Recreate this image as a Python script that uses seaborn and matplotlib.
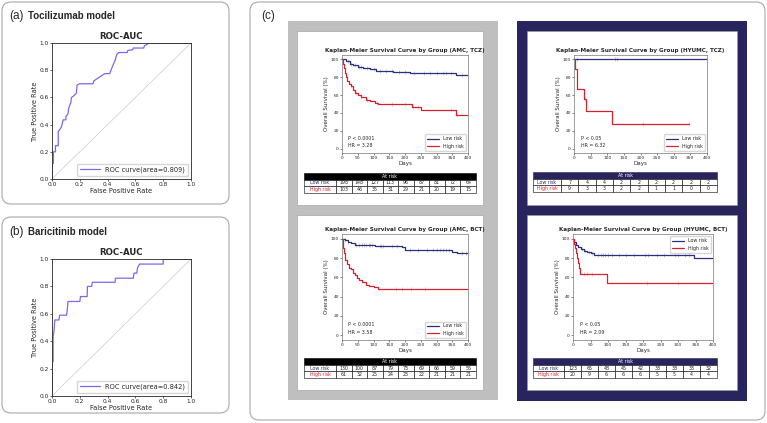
import matplotlib
matplotlib.use("Agg")
import matplotlib.pyplot as plt
from matplotlib.patches import FancyBboxPatch, Rectangle
import numpy as np
import seaborn as sns

W, H = 767, 423

# ROC curves (corner points)
toci_fpr = [0, 0, 0.01, 0.01, 0.025, 0.025, 0.045, 0.045, 0.06, 0.07, 0.08, 0.10, 0.10,
            0.115, 0.12, 0.135, 0.14, 0.155, 0.175, 0.18, 0.195, 0.295, 0.30, 0.32, 0.35,
            0.38, 0.415, 0.43, 0.44, 0.455, 0.465, 0.48, 0.54, 0.545, 0.58, 0.585, 0.66,
            0.665, 0.68, 0.695, 1.0]
toci_tpr = [0, 0.115, 0.115, 0.20, 0.20, 0.245, 0.245, 0.35, 0.37, 0.39, 0.435, 0.435, 0.46,
            0.48, 0.52, 0.56, 0.60, 0.61, 0.63, 0.69, 0.70, 0.70, 0.72, 0.735, 0.755,
            0.775, 0.775, 0.815, 0.84, 0.875, 0.915, 0.93, 0.93, 0.945, 0.95, 0.963, 0.963,
            0.98, 0.988, 1.0, 1.0]
bari_fpr = [0, 0, 0.008, 0.008, 0.015, 0.02, 0.05, 0.055, 0.105, 0.11, 0.115, 0.20, 0.205,
            0.253, 0.255, 0.285, 0.29, 0.453, 0.457, 0.585, 0.59, 0.61, 0.615, 0.63, 0.80,
            0.80, 1.0]
bari_tpr = [0, 0.25, 0.25, 0.43, 0.48, 0.555, 0.555, 0.59, 0.59, 0.63, 0.69, 0.69, 0.726,
            0.726, 0.80, 0.80, 0.83, 0.83, 0.86, 0.86, 0.897, 0.897, 0.934, 0.963, 0.963,
            1.0, 1.0]

# Kaplan-Meier step curves (days, survival %) and censor days
amc_tcz_low_t = [0, 14, 24, 35, 51, 67, 88, 109, 130, 162, 215, 363, 400]
amc_tcz_low_s = [100, 98, 95, 93.5, 92, 90, 89, 87.5, 86.5, 86, 85, 83, 83]
amc_tcz_low_c = [20, 30, 40, 55, 60, 80, 100, 120, 140, 160, 180, 200, 230, 260, 280,
                 300, 320, 330, 345, 380]
amc_tcz_high_t = [0, 2, 5, 8, 12, 17, 22, 30, 35, 42, 50, 60, 75, 90, 105, 115, 222, 250,
                  362, 400]
amc_tcz_high_s = [100, 95, 90, 85, 80, 76, 72, 70, 66, 62, 60, 58, 55, 53, 51, 50, 47, 43,
                  38, 38]
amc_tcz_high_c = [30, 45, 60, 80, 110, 160, 200, 225, 240, 345, 365]

hy_tcz_low_t = [0, 400]
hy_tcz_low_s = [100, 100]
hy_tcz_low_c = [8, 122, 130]
hy_tcz_high_t = [0, 3, 8, 10, 29, 36, 113, 345]
hy_tcz_high_s = [100, 88.9, 77.8, 66.7, 55.6, 41.7, 27.8, 27.8]
hy_tcz_high_c = [33, 207, 345]

amc_bct_low_t = [0, 10, 20, 30, 40, 105, 190, 200, 350, 365, 400]
amc_bct_low_s = [100, 99, 97, 95.5, 94, 93, 92, 88, 86.5, 85, 85]
amc_bct_low_c = [10, 20, 45, 55, 65, 70, 75, 85, 90, 95, 120, 125, 130, 160, 175, 215, 240,
                 270, 290, 300, 310, 320, 330, 340, 380, 395]
amc_bct_high_t = [0, 3, 6, 10, 15, 22, 30, 35, 40, 48, 55, 65, 75, 85, 100, 115, 400]
amc_bct_high_s = [100, 90, 85, 78, 74, 70, 68.5, 65, 62, 59, 57, 55, 52, 51, 49.5, 48, 48]
amc_bct_high_c = [170, 190, 220, 265]

hy_bct_low_t = [0, 3, 8, 15, 22, 30, 40, 50, 60, 345, 400]
hy_bct_low_s = [100, 97, 94, 91, 89, 87, 86, 85, 83.5, 80.5, 80.5]
hy_bct_low_c = [25, 35, 45, 55, 70, 80, 85, 90, 100, 110, 130, 150, 175, 205, 215, 240,
                260, 290, 300, 320, 330]
hy_bct_high_t = [0, 2, 5, 8, 12, 15, 18, 20, 97, 400]
hy_bct_high_s = [100, 95, 90, 85, 80, 75, 70, 63, 54, 54]
hy_bct_high_c = [30, 40, 55, 210, 300]

# numbers at risk
amc_tcz_risk_low = [198, 148, 127, 113, 96, 87, 81, 72, 64]
amc_tcz_risk_high = [103, 46, 35, 31, 29, 21, 20, 19, 15]
hy_tcz_risk_low = [7, 4, 4, 2, 2, 2, 2, 2, 2]
hy_tcz_risk_high = [9, 3, 3, 2, 2, 1, 1, 0, 0]
amc_bct_risk_low = [130, 100, 87, 79, 73, 69, 66, 59, 55]
amc_bct_risk_high = [61, 32, 25, 24, 23, 22, 21, 21, 21]
hy_bct_risk_low = [123, 65, 48, 45, 42, 38, 38, 33, 32]
hy_bct_risk_high = [20, 9, 6, 6, 6, 5, 5, 4, 4]

NAVY = "#27245e"
LOW = "#2c2f7c"
HIGH = "#d6202f"
ROC = "#7b68ee"
GRAY = "#bfbfbf"

sns.set_theme(style="ticks")
plt.rcParams["font.family"] = ["DejaVu Sans"]
plt.rcParams["axes.linewidth"] = 0.6

fig = plt.figure(figsize=(W / 100, H / 100), dpi=100)


def rect(x0, y0, x1, y1):
    return [x0 / W, 1 - y1 / H, (x1 - x0) / W, (y1 - y0) / H]


bg = fig.add_axes([0, 0, 1, 1])
bg.set_xlim(0, W)
bg.set_ylim(H, 0)
bg.axis("off")


def rounded(x0, y0, x1, y1):
    bg.add_patch(FancyBboxPatch((x0, y0), x1 - x0, y1 - y0,
                                boxstyle="round,pad=0,rounding_size=9",
                                fc="white", ec="#a8a8a8", lw=0.8))


rounded(2, 2, 229, 204)
rounded(2, 217, 229, 413)
rounded(250, 2, 765, 420)
bg.add_patch(Rectangle((288, 21), 210, 379, fc=GRAY, ec="none"))
bg.add_patch(Rectangle((517, 21), 230, 380, fc=NAVY, ec="none"))
for x0, x1 in [(297, 483), (527, 737)]:
    bg.add_patch(Rectangle((x0, 31), x1 - x0, 174, fc="white", ec="#999999", lw=0.4))
    bg.add_patch(Rectangle((x0, 215), x1 - x0, 175, fc="white", ec="#999999", lw=0.4))

head_font = ["Liberation Sans", "DejaVu Sans"]
for y, lab, name in [(16, "(a)", "Tocilizumab model"), (232, "(b)", "Baricitinib model")]:
    bg.text(9, y, lab, fontsize=8.5, family=head_font, fontweight="light", va="center")
    bg.text(28, y, name, fontsize=7, family=head_font, fontweight="bold", va="center")
bg.text(261, 16, "(c)", fontsize=8.5, family=head_font, va="center")


def draw_roc(box, fpr, tpr, auc):
    ax = fig.add_axes(rect(*box))
    ax.plot([0, 1], [0, 1], color="#cccccc", lw=0.5)
    sns.lineplot(x=fpr, y=tpr, sort=False, estimator=None, color=ROC, lw=0.9, ax=ax,
                 label=f"ROC curve(area={auc})")
    ax.set_xlim(0, 1)
    ax.set_ylim(0, 1)
    ticks = np.arange(0, 1.01, 0.2)
    ax.set_xticks(ticks)
    ax.set_yticks(ticks)
    ax.tick_params(labelsize=4.2, length=1.5, width=0.5, pad=1)
    ax.set_xlabel("False Positive Rate", fontsize=4.8, labelpad=0.5)
    ax.set_ylabel("True Positive Rate", fontsize=4.8, labelpad=1)
    ax.set_title("ROC-AUC", fontsize=6.2, fontweight="bold", pad=3)
    ax.legend(loc="lower right", fontsize=4.8, handlelength=3, frameon=True,
              edgecolor="#cccccc", fancybox=True, borderpad=0.4)


draw_roc((52, 43, 191, 179), toci_fpr, toci_tpr, "0.809")
draw_roc((52, 259, 191, 396), bari_fpr, bari_tpr, "0.842")


def at(t, s, c):
    idx = np.searchsorted(t, c, side="right") - 1
    return np.asarray(s)[idx]


def draw_km(box, title, low, high, p_txt, hr_txt, leg_loc):
    ax = fig.add_axes(rect(*box))
    for (t, s, c), col, lab in [(low, LOW, "Low risk"), (high, HIGH, "High risk")]:
        sns.lineplot(x=t, y=s, drawstyle="steps-post", estimator=None, color=col,
                     lw=0.9, ax=ax, label=lab)
        ax.plot(c, at(t, s, c), ls="none", marker="|", ms=2.5, mew=0.4,
                color=col, alpha=0.45)
    ax.set_xlim(0, 400)
    ax.set_ylim(-5, 105)
    ax.set_xticks(range(0, 401, 50))
    ax.set_yticks(range(0, 101, 20))
    ax.tick_params(labelsize=3.2, length=1.2, width=0.4, pad=1)
    for sp in ax.spines.values():
        sp.set_color("#777777")
        sp.set_linewidth(0.5)
    ax.set_xlabel("Days", fontsize=4, labelpad=0.5)
    ax.set_ylabel("Overall Survival (%)", fontsize=4, labelpad=1)
    ax.set_title(title, fontsize=4.1, fontweight="bold", pad=2)
    ax.text(0.05, 0.135, p_txt, transform=ax.transAxes, fontsize=3.4)
    ax.text(0.05, 0.06, hr_txt, transform=ax.transAxes, fontsize=3.4)
    ax.legend(loc=leg_loc, fontsize=3.4, handlelength=2.6, frameon=True,
              edgecolor="#cccccc", borderpad=0.4, labelspacing=0.5)


draw_km((342, 55, 468, 153), "Kaplan-Meier Survival Curve by Group (AMC, TCZ)",
        (amc_tcz_low_t, amc_tcz_low_s, amc_tcz_low_c),
        (amc_tcz_high_t, amc_tcz_high_s, amc_tcz_high_c),
        "P < 0.0001", "HR = 3.28", "lower right")
draw_km((574, 55, 707, 153), "Kaplan-Meier Survival Curve by Group (HYUMC, TCZ)",
        (hy_tcz_low_t, hy_tcz_low_s, hy_tcz_low_c),
        (hy_tcz_high_t, hy_tcz_high_s, hy_tcz_high_c),
        "P < 0.05", "HR = 6.32", "lower right")
draw_km((342, 234, 468, 340), "Kaplan-Meier Survival Curve by Group (AMC, BCT)",
        (amc_bct_low_t, amc_bct_low_s, amc_bct_low_c),
        (amc_bct_high_t, amc_bct_high_s, amc_bct_high_c),
        "P < 0.0001", "HR = 3.58", "lower right")
draw_km((573, 234, 713, 340), "Kaplan-Meier Survival Curve by Group (HYUMC, BCT)",
        (hy_bct_low_t, hy_bct_low_s, hy_bct_low_c),
        (hy_bct_high_t, hy_bct_high_s, hy_bct_high_c),
        "P < 0.05", "HR = 2.09", "upper right")


def draw_table(x0, x1, y0, y1, lab_w, low, high, head_col):
    rh = (y1 - y0) / 3
    bg.add_patch(Rectangle((x0, y0), x1 - x0, rh, fc=head_col, ec=head_col, lw=0.4))
    bg.text((x0 + x1) / 2, y0 + rh / 2, "At risk", color="white", fontsize=3.4,
            ha="center", va="center")
    cw = (x1 - x0 - lab_w) / len(low)
    for r, (lab, vals, col) in enumerate([("Low risk", low, LOW), ("High risk", high, HIGH)]):
        yy = y0 + rh * (r + 1)
        bg.add_patch(Rectangle((x0, yy), lab_w, rh, fc="white", ec="black", lw=0.4))
        bg.text(x0 + lab_w / 2, yy + rh / 2, lab, color=col, fontsize=3.4,
                ha="center", va="center")
        for i, v in enumerate(vals):
            cx = x0 + lab_w + i * cw
            bg.add_patch(Rectangle((cx, yy), cw, rh, fc="white", ec="black", lw=0.4))
            bg.text(cx + cw / 2, yy + rh / 2, str(v), fontsize=3.4, ha="center",
                    va="center")


draw_table(304, 476, 173, 193, 32, amc_tcz_risk_low, amc_tcz_risk_high, "black")
draw_table(533, 717, 172, 192, 28, hy_tcz_risk_low, hy_tcz_risk_high, NAVY)
draw_table(304, 476, 358, 378, 32, amc_bct_risk_low, amc_bct_risk_high, "black")
draw_table(533, 717, 358, 378, 31, hy_bct_risk_low, hy_bct_risk_high, NAVY)

fig.savefig("out.png", dpi=100)
